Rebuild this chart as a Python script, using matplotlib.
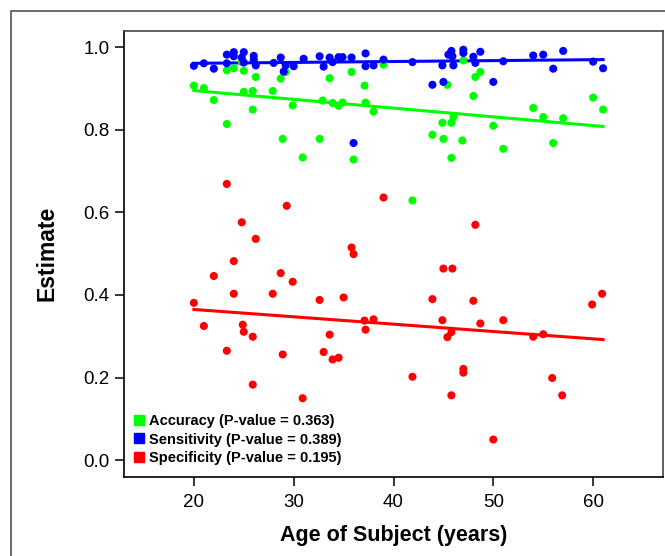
import matplotlib
matplotlib.use("Agg")
import matplotlib.pyplot as plt
import numpy as np
from matplotlib.lines import Line2D
from matplotlib.patches import Rectangle

# ages and estimates, per series
acc_age = [20.0, 21.0, 22.0, 23.3, 23.3, 24.0, 24.8, 25.0, 25.0, 25.9, 25.9, 26.2,
           27.9, 28.7, 28.9, 29.2, 29.9, 30.9, 32.6, 32.9, 33.6, 33.9, 34.5, 34.9,
           35.8, 36.0, 37.1, 37.2, 38.0, 39.0, 41.9, 43.9, 44.9, 45.0, 45.4, 45.8,
           45.8, 46.0, 46.9, 47.0, 48.0, 48.2, 48.7, 50.0, 51.0, 54.0, 55.0, 56.0,
           57.0, 60.0, 61.0]
acc = [0.907, 0.901, 0.872, 0.944, 0.814, 0.949, 0.964, 0.943, 0.892, 0.894, 0.849, 0.928,
       0.894, 0.924, 0.778, 0.940, 0.859, 0.733, 0.778, 0.871, 0.925, 0.865, 0.858, 0.866,
       0.940, 0.728, 0.907, 0.866, 0.844, 0.958, 0.629, 0.788, 0.817, 0.778, 0.909, 0.817,
       0.732, 0.832, 0.774, 0.968, 0.882, 0.928, 0.940, 0.810, 0.754, 0.853, 0.831, 0.768,
       0.828, 0.878, 0.849]

sen_age = [20.0, 21.0, 22.0, 23.3, 23.3, 24.0, 24.0, 24.8, 25.0, 25.0, 26.0, 26.0,
           26.2, 28.0, 28.7, 29.0, 29.2, 30.0, 31.0, 32.6, 33.0, 33.6, 33.9, 34.5,
           34.9, 35.8, 36.0, 37.2, 37.2, 38.0, 39.0, 41.9, 43.9, 44.9, 45.0, 45.5,
           45.8, 45.9, 46.0, 47.0, 47.0, 48.0, 48.2, 48.7, 50.0, 51.0, 54.0, 55.0,
           56.0, 57.0, 60.0, 61.0]
sen = [0.955, 0.961, 0.948, 0.982, 0.961, 0.988, 0.978, 0.975, 0.988, 0.963, 0.979, 0.970,
       0.956, 0.962, 0.975, 0.941, 0.956, 0.954, 0.972, 0.978, 0.953, 0.975, 0.964, 0.976,
       0.976, 0.975, 0.768, 0.985, 0.954, 0.956, 0.970, 0.964, 0.909, 0.956, 0.916, 0.982,
       0.991, 0.978, 0.956, 0.994, 0.986, 0.977, 0.962, 0.989, 0.916, 0.966, 0.980, 0.982,
       0.948, 0.991, 0.965, 0.949]

spe_age = [23.3, 29.3, 24.8, 26.2, 39.0, 35.8, 36.0, 24.0, 22.0, 28.7, 29.9, 24.0,
           27.9, 32.6, 35.0, 20.0, 21.0, 24.9, 37.1, 38.0, 37.2, 25.0, 25.9, 23.3,
           28.9, 33.6, 33.0, 33.9, 34.5, 25.9, 30.9, 44.9, 48.7, 51.0, 45.8, 45.4,
           54.0, 55.0, 41.9, 47.0, 47.0, 55.9, 45.8, 56.9, 50.0, 48.2, 45.0, 45.9,
           43.9, 48.0, 59.9, 60.9]
spe = [0.669, 0.616, 0.576, 0.536, 0.636, 0.515, 0.499, 0.482, 0.446, 0.453, 0.432, 0.403,
       0.403, 0.388, 0.394, 0.381, 0.325, 0.328, 0.338, 0.341, 0.316, 0.311, 0.299, 0.265,
       0.256, 0.304, 0.262, 0.244, 0.248, 0.183, 0.150, 0.339, 0.331, 0.339, 0.310, 0.298,
       0.299, 0.305, 0.202, 0.221, 0.212, 0.199, 0.157, 0.157, 0.050, 0.570, 0.464, 0.464,
       0.390, 0.386, 0.377, 0.403]

# fitted trend lines as drawn in the reference (value at fit_age[0], fit_age[1])
fit_age = [20, 61]
acc_fit = [0.895, 0.808]
sen_fit = [0.961, 0.970]
spe_fit = [0.365, 0.292]

labels = ["Accuracy (P-value = 0.363)",
          "Sensitivity (P-value = 0.389)",
          "Specificity (P-value = 0.195)"]
colors = ["#00ff00", "#0000ff", "#ff0000"]

FONT = ["Liberation Sans", "DejaVu Sans"]
plt.rcParams["font.family"] = FONT

W, H = 665, 556
fig = plt.figure(figsize=(W / 100, H / 100), dpi=100)
ax = fig.add_axes([124 / W, 1 - 476.7 / H, (663 - 124) / W, (476.7 - 30.7) / H])

series = [(acc_age, acc, acc_fit), (sen_age, sen, sen_fit), (spe_age, spe, spe_fit)]
for (x, y, f), c in zip(series, colors):
    ax.scatter(x, y, s=34, color=c, edgecolors="none", zorder=3)
    ax.plot(fit_age, f, color=c, lw=2.2, zorder=2)

ax.set_xlim(13, 67)
ax.set_ylim(-0.04, 1.04)
ax.set_xticks([20, 30, 40, 50, 60])
ax.set_yticks([0.0, 0.2, 0.4, 0.6, 0.8, 1.0])
ax.set_yticklabels(["0.0", "0.2", "0.4", "0.6", "0.8", "1.0"])
ax.tick_params(direction="out", length=6.5, width=1.1, labelsize=13.5, pad=4)
ax.tick_params(axis="x", pad=6)
for s in ax.spines.values():
    s.set_linewidth(1.2)
ax.spines["top"].set_color("#444444")
ax.spines["right"].set_color("#444444")

ax.set_xlabel("Age of Subject (years)", fontsize=15.5, fontweight="bold", labelpad=10)
ax.set_ylabel("Estimate", fontsize=16.5, fontweight="bold", labelpad=18)

handles = [Line2D([], [], ls="none", marker="s", ms=7.5, color=c) for c in colors]
ax.legend(handles, labels, loc="lower left", bbox_to_anchor=(0.005, 0.01),
          frameon=False, borderpad=0, handlelength=0.7, handletextpad=0.3,
          labelspacing=0.3, prop={"family": FONT, "weight": "bold", "size": 10.5})

# outer frame around the panel
fig.patches.append(Rectangle((11 / W, -0.2), 2, 1 - 11 / H + 0.2,
                             transform=fig.transFigure, fill=False,
                             edgecolor="#444444", lw=1.1))

fig.savefig("out.png", dpi=100)
